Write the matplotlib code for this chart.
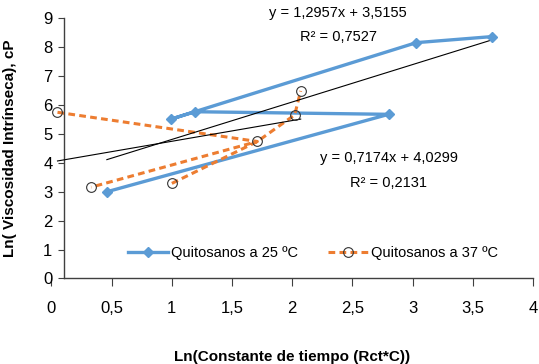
import numpy as np
import matplotlib.pyplot as plt

# --- datos ---
x_25 = [0.46, 0.99, 1.19, 2.80, 3.03, 3.66]
y_25 = [3.00, 5.51, 5.77, 5.68, 8.16, 8.37]
orden_25 = [0, 3, 2, 1, 4, 5]

x_37 = [0.05, 1.71, 0.33, 1.00, 2.02, 2.07]
y_37 = [5.75, 4.74, 3.16, 3.29, 5.66, 6.49]
orden_37 = [0, 1, 2, None, 3, 1, 4, 5]

pend_25, orig_25, r2_25 = 1.2957, 3.5155, 0.7527
pend_37, orig_37, r2_37 = 0.7174, 4.0299, 0.2131

x_ticks = [0, 0.5, 1, 1.5, 2, 2.5, 3, 3.5, 4]
y_ticks = list(range(10))

AZUL = '#5B9BD5'
NARANJA = '#ED7D31'
plt.rcParams['font.family'] = ['Liberation Sans', 'DejaVu Sans']
plt.rcParams['font.size'] = 10.5


def camino(xs, ys, orden):
    px = [np.nan if i is None else xs[i] for i in orden]
    py = [np.nan if i is None else ys[i] for i in orden]
    return px, py


fig = plt.figure(figsize=(5.39, 3.64), dpi=100)
ax = fig.add_axes([0.0955, 0.235, 0.8935, 0.7145])

# series
px, py = camino(x_25, y_25, orden_25)
ax.plot(px, py, color=AZUL, lw=2.4, zorder=2)
ax.plot(x_25, y_25, ls='none', marker='D', ms=5.5, color=AZUL, zorder=4)
px, py = camino(x_37, y_37, orden_37)
ax.plot(px, py, color=NARANJA, lw=2.2, ls=(0, (2.2, 1.4)), zorder=2)
ax.plot(x_37, y_37, ls='none', marker='o', ms=7, mfc='none', mec='#333333',
        mew=0.8, zorder=4)

# lineas de tendencia
xt = np.array([min(x_25), max(x_25)])
ax.plot(xt, pend_25 * xt + orig_25, color='black', lw=0.8, zorder=3)
xt = np.array([min(x_37), max(x_37)])
ax.plot(xt, pend_37 * xt + orig_37, color='black', lw=0.8, zorder=3)

ax.text(2.38, 9.19, f'y = {pend_25:.4f}x + {orig_25:.4f}'.replace('.', ','),
        ha='center', va='center', clip_on=False)
ax.text(2.38, 8.36, f'R² = {r2_25:.4f}'.replace('.', ','),
        ha='center', va='center', clip_on=False)
ax.text(2.80, 4.17, f'y = {pend_37:.4f}x + {orig_37:.4f}'.replace('.', ','),
        ha='center', va='center')
ax.text(2.80, 3.30, f'R² = {r2_37:.4f}'.replace('.', ','),
        ha='center', va='center')

# ejes
ax.set_xlim(0, 4)
ax.set_ylim(0, 9)
ax.set_xticks(x_ticks)
ax.set_xticklabels([str(v).replace('.', ',') for v in x_ticks])
ax.set_yticks(y_ticks)
for s in ['top', 'right']:
    ax.spines[s].set_visible(False)
ax.spines['left'].set_position(('data', 0.1))
ax.spines['bottom'].set_bounds(0.1, 4)
for s in ['left', 'bottom']:
    ax.spines[s].set_color('#404040')
    ax.spines[s].set_linewidth(1.0)
ax.tick_params(axis='x', direction='out', length=6, color='#404040', pad=10,
               labelsize=12)
ax.tick_params(axis='y', direction='out', length=4, color='#404040', pad=4,
               labelsize=12)

ax.set_ylabel('Ln( Viscosidad Intrínseca), cP', fontweight='bold', fontsize=11)
ax.yaxis.set_label_coords(-0.072, 0.5)
ax.set_xlabel('Ln(Constante de tiempo (Rct*C))', fontweight='bold', fontsize=11)
ax.xaxis.set_label_coords(0.5, -0.275)

# leyenda
h1, = ax.plot([], [], color=AZUL, lw=2.4, marker='D', ms=5.5)
h2, = ax.plot([], [], color=NARANJA, lw=2.2, ls=(0, (2.2, 1.4)), marker='o',
              ms=7, mfc='none', mec='#333333', mew=0.8)
ax.legend([h1, h2], ['Quitosanos a 25 ºC', 'Quitosanos a 37 ºC'], ncol=2,
          loc='center', bbox_to_anchor=(0.543, 0.098), frameon=False,
          handlelength=2.8, handletextpad=0.2, columnspacing=2.0)

fig.savefig('out.png', dpi=100)
